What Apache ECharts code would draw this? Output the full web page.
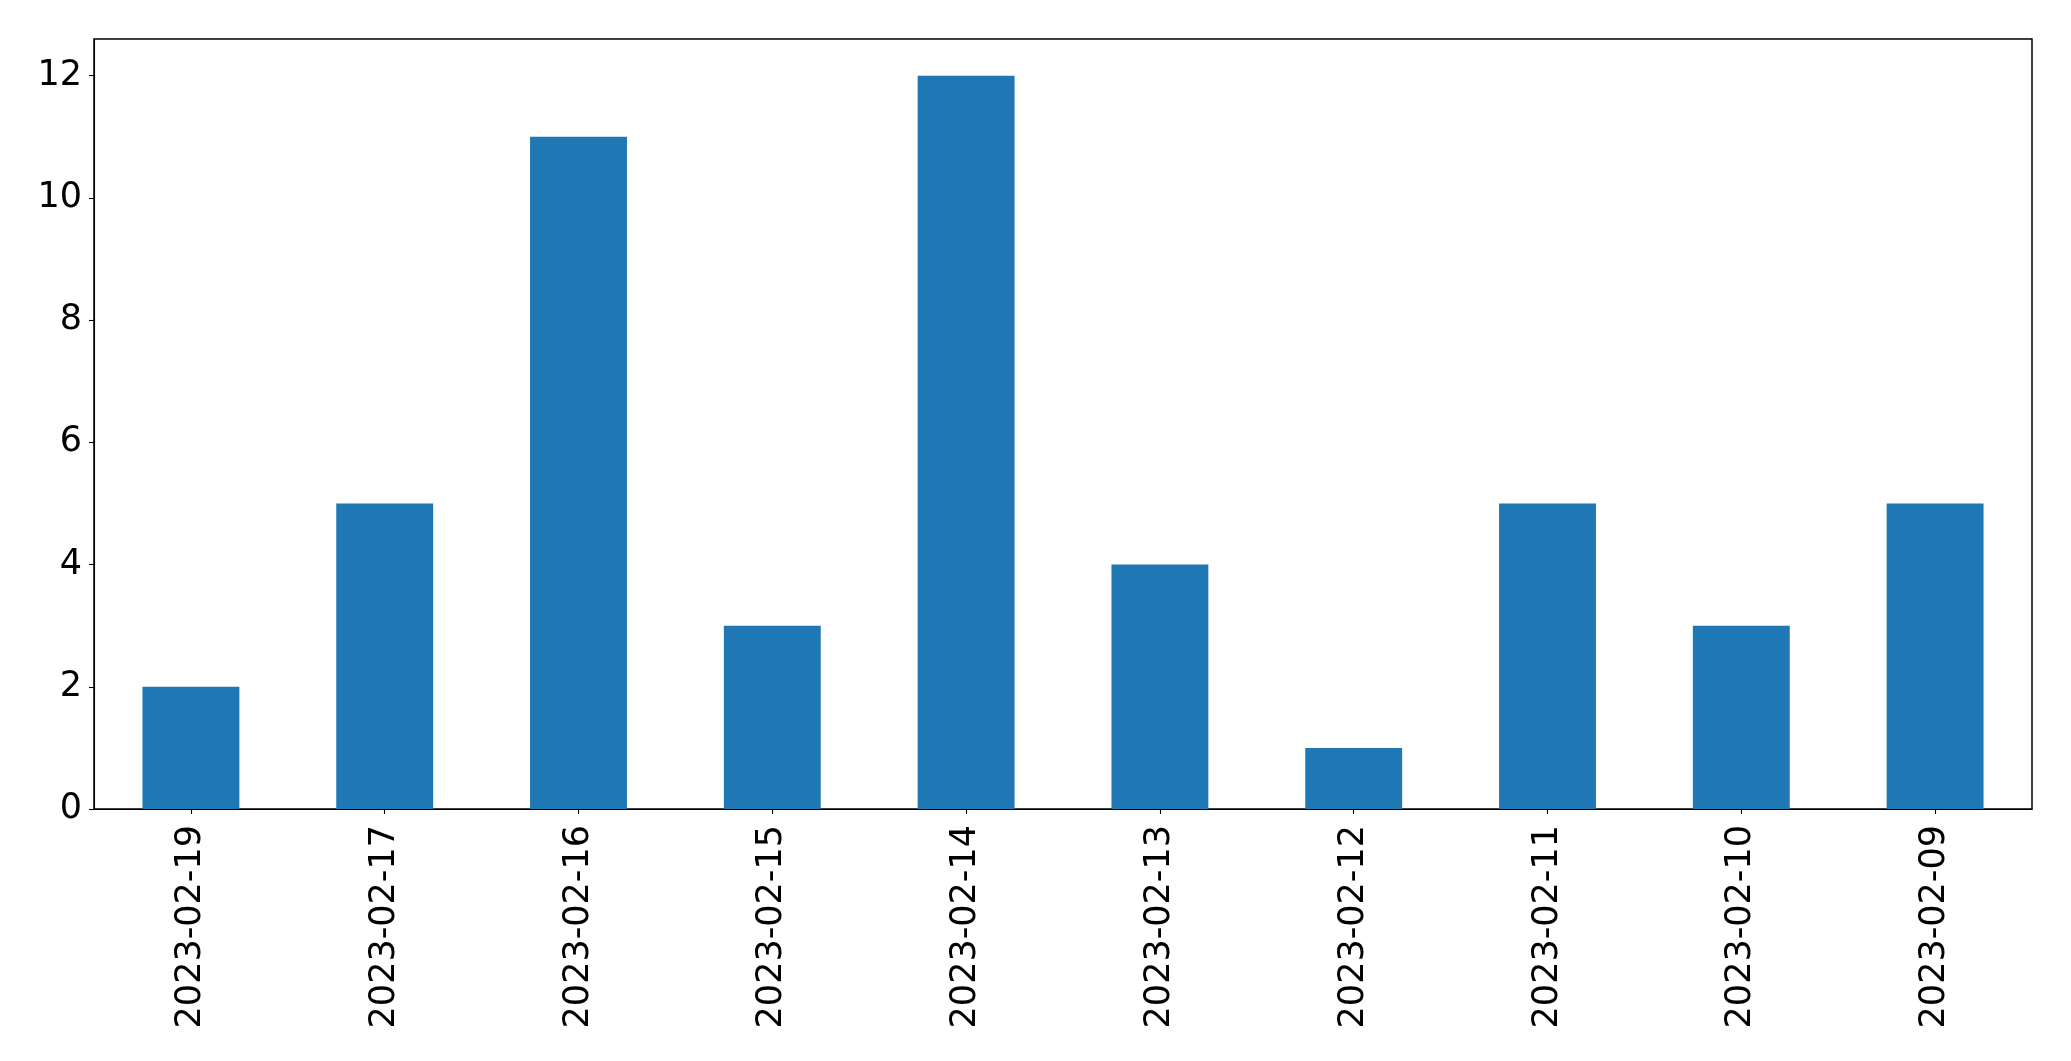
<!DOCTYPE html>
<html>
<head>
<meta charset="utf-8">
<script src="https://cdn.jsdelivr.net/npm/echarts@6/dist/echarts.min.js"></script>
<style>
html,body{margin:0;padding:0;background:#fff;}
#chart{width:2071px;height:1061px;}
</style>
</head>
<body>
<div id="chart"></div>
<script>
const categories = ['2023-02-19','2023-02-17','2023-02-16','2023-02-15','2023-02-14','2023-02-13','2023-02-12','2023-02-11','2023-02-10','2023-02-09'];
const values = [2,5,11,3,12,4,1,5,3,5];
const yTicks = [0,2,4,6,8,10,12];

const chart = echarts.init(document.getElementById('chart'), null, {renderer:'canvas'});
const font = 'DejaVu Sans';
chart.setOption({
  animation: false,
  backgroundColor: '#ffffff',
  grid: {
    left: 94, right: 39, top: 39, bottom: 252,
    show: true, borderColor: '#000', borderWidth: 1.5, backgroundColor: 'transparent'
  },
  xAxis: {
    type: 'category',
    data: categories,
    boundaryGap: true,
    axisLine: {show: true, lineStyle: {color: '#000', width: 1.1}},
    axisTick: {show: true, alignWithLabel: true, length: 5, lineStyle: {color: '#000', width: 1.1}},
    axisLabel: {rotate: 90, margin: 16, fontFamily: font, fontSize: 35, color: '#000'},
    splitLine: {show: false}
  },
  yAxis: {
    type: 'value',
    min: 0, max: 12.6, interval: 2,
    axisLine: {show: true, lineStyle: {color: '#000', width: 1.1}},
    axisTick: {show: true, length: 5, customValues: yTicks, lineStyle: {color: '#000', width: 1.1}},
    axisLabel: {margin: 12, fontFamily: font, fontSize: 35, color: '#000', customValues: yTicks},
    splitLine: {show: false}
  },
  series: [{
    type: 'bar',
    data: values,
    barWidth: '50%',
    itemStyle: {color: '#1f77b4'}
  }]
});
</script>
</body>
</html>
